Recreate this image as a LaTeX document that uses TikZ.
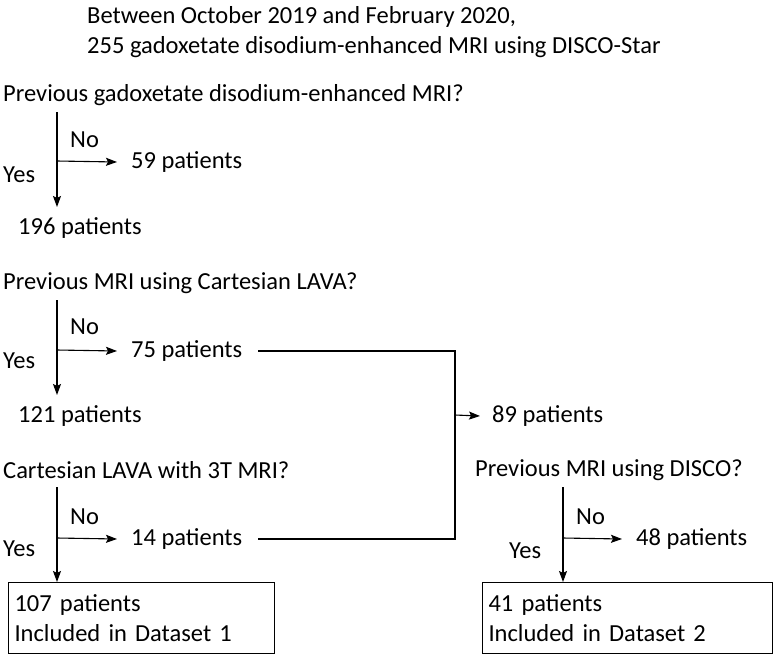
\documentclass[tikz,border=0pt]{standalone}
\usepackage{fontspec}
\setmainfont{Carlito}
\usetikzlibrary{arrows.meta, positioning}

\begin{document}
\begin{tikzpicture}[x=1pt, y=-1pt, every node/.style={font=\fontsize{24.5}{30}\selectfont, inner sep=0pt, anchor=west}, align=left]

    % Define styles
    \tikzset{arrow/.style={line width=1.1pt, -{Stealth[length=11pt, width=8pt, inset=2pt]}}}
    \tikzset{flow/.style={line width=1.1pt}}
    \tikzset{result/.style={draw, line width=1.1pt, text width=254pt, minimum height=71pt, anchor=north west, inner sep=6pt}}

    \useasboundingbox (0,0) rectangle (779,657);

    % Title
    \node (title) at (87,32) {Between October 2019 and February 2020,\\255 gadoxetate disodium-enhanced MRI using DISCO-Star};

    % Block 1
    \node (q1) at (3,95) {Previous gadoxetate disodium-enhanced MRI?};
    \coordinate (t1) at (57,112);
    \coordinate (b1) at (57,207);
    \coordinate (s1) at (57,161);
    \node (no1) at (70,140) {No};
    \node (yes1) at (3,175) {Yes};
    \node (p59) at (131,162) {59 patients};
    \node (p196) at (18,228) {196 patients};
    \draw [arrow] (t1) -- (b1);
    \draw [arrow] (s1) -- ([xshift=-14pt]p59.west);

    % Block 2
    \node (q2) at (3,283) {Previous MRI using Cartesian LAVA?};
    \coordinate (t2) at (57,300);
    \coordinate (b2) at (57,395);
    \coordinate (s2) at (57,350);
    \node (no2) at (70,327) {No};
    \node (yes2) at (3,361) {Yes};
    \node (p75) at (131,351) {75 patients};
    \node (p121) at (18,416) {121 patients};
    \draw [arrow] (t2) -- (b2);
    \draw [arrow] (s2) -- ([xshift=-14pt]p75.west);

    % Block 3
    \node (q3) at (3,470) {Cartesian LAVA with 3T MRI?};
    \coordinate (t3) at (57,487);
    \coordinate (b3) at (57,582);
    \coordinate (s3) at (57,538);
    \node (no3) at (70,517) {No};
    \node (yes3) at (3,549) {Yes};
    \node (p14) at (131,539) {14 patients};
    \node (box1) [result] at (8,582) {107 patients\\Included in Dataset 1};
    \draw [arrow] (t3) -- (box1.north west -| t3);
    \draw [arrow] (s3) -- ([xshift=-14pt]p14.west);

    % Merge
    \coordinate (m) at (455,415);
    \node (p89) at (492,416) {89 patients};
    \draw [flow] (p75.east) ++(16,0) -| (m);
    \draw [flow] (p14.east) ++(16,0) -| (m);
    \draw [arrow] (m) -- ([xshift=-12pt]p89.west);

    % Block 4
    \node (q4) at (475,470) {Previous MRI using DISCO?};
    \coordinate (t4) at (563,487);
    \coordinate (s4) at (563,538);
    \node (no4) at (576,517) {No};
    \node (yes4) at (509,551) {Yes};
    \node (p48) at (636,539) {48 patients};
    \node (box2) [result, text width=278pt] at (482,582) {41 patients\\Included in Dataset 2};
    \draw [arrow] (t4) -- (box2.north west -| t4);
    \draw [arrow] (s4) -- ([xshift=-14pt]p48.west);

\end{tikzpicture}
\end{document}
